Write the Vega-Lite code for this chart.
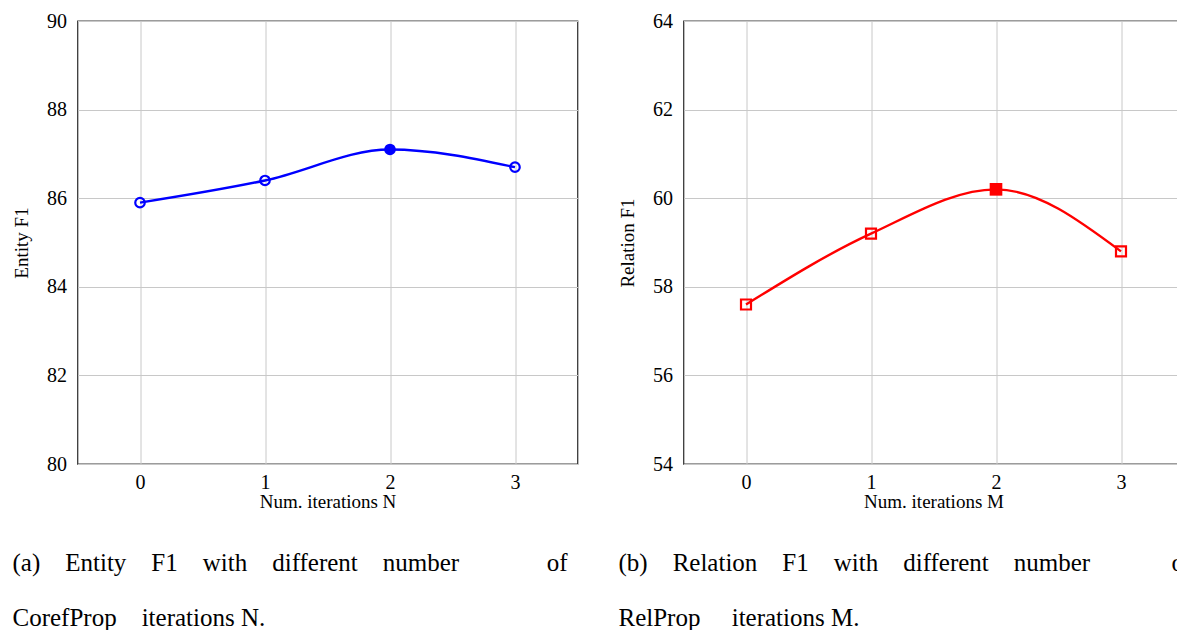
{
  "$schema": "https://vega.github.io/schema/vega-lite/v6.json",
  "padding": {"left": 11.5, "top": 10, "right": 0, "bottom": 0},
  "spacing": 106,
  "bounds": "flush",
  "background": "white",
  "config": {
    "font": "Liberation Serif",
    "view": {"stroke": "#3a3a3a", "strokeWidth": 1.3},
    "axis": {
      "domain": false,
      "ticks": false,
      "grid": true,
      "gridColor": "#c8c8c8",
      "gridWidth": 1,
      "labelFont": "Liberation Serif",
      "labelFontSize": 20,
      "labelColor": "#000",
      "titleFont": "Liberation Serif",
      "titleFontSize": 19,
      "titleFontWeight": "normal",
      "titleColor": "#000"
    },
    "axisX": {"labelPadding": 8, "titlePadding": 0},
    "axisY": {"labelPadding": 11, "titlePadding": 15},
    "title": {
      "font": "Liberation Serif",
      "fontSize": 25,
      "fontWeight": "normal",
      "color": "#000",
      "subtitleFont": "Liberation Serif",
      "subtitleFontSize": 25,
      "subtitleColor": "#000"
    }
  },
  "datasets": {
    "entity": [
      {"iter": 0, "f1": 85.9, "best": false},
      {"iter": 1, "f1": 86.4, "best": false},
      {"iter": 2, "f1": 87.1, "best": true},
      {"iter": 3, "f1": 86.7, "best": false}
    ],
    "relation": [
      {"iter": 0, "f1": 57.6, "best": false},
      {"iter": 1, "f1": 59.2, "best": false},
      {"iter": 2, "f1": 60.2, "best": true},
      {"iter": 3, "f1": 58.8, "best": false}
    ]
  },
  "hconcat": [
    {
      "width": 500,
      "height": 443,
      "data": {"name": "entity"},
      "title": {
        "text": "(a)\u00a0\u00a0\u00a0\u00a0Entity\u00a0\u00a0\u00a0\u00a0F1\u00a0\u00a0\u00a0\u00a0with\u00a0\u00a0\u00a0\u00a0different\u00a0\u00a0\u00a0\u00a0number\u00a0\u00a0\u00a0\u00a0\u00a0\u00a0\u00a0\u00a0\u00a0\u00a0\u00a0\u00a0\u00a0\u00a0of",
        "subtitle": "CorefProp\u00a0\u00a0\u00a0\u00a0iterations N.",
        "orient": "bottom",
        "anchor": "start",
        "frame": "bounds",
        "offset": 40,
        "subtitlePadding": 30
      },
      "encoding": {
        "x": {
          "field": "iter",
          "type": "quantitative",
          "scale": {"domain": [-0.5, 3.5], "nice": false, "zero": false},
          "axis": {"values": [0, 1, 2, 3], "title": "Num. iterations N", "format": "d", "labelFont": "Liberation Serif", "labelFontSize": 20}
        },
        "y": {
          "field": "f1",
          "type": "quantitative",
          "scale": {"domain": [80, 90], "nice": false, "zero": false},
          "axis": {"values": [80, 82, 84, 86, 88, 90], "title": "Entity F1", "labelFont": "Liberation Serif", "labelFontSize": 20}
        }
      },
      "layer": [
        {"mark": {"type": "line", "color": "#0000ff", "strokeWidth": 2.4, "interpolate": "monotone"}},
        {
          "transform": [{"filter": "!datum.best"}],
          "mark": {"type": "point", "shape": "circle", "filled": false, "color": "#0000ff", "strokeWidth": 2.2, "size": 90, "opacity": 1}
        },
        {
          "transform": [{"filter": "datum.best"}],
          "mark": {"type": "point", "shape": "circle", "filled": true, "color": "#0000ff", "size": 135, "opacity": 1}
        }
      ]
    },
    {
      "width": 500,
      "height": 443,
      "data": {"name": "relation"},
      "title": {
        "text": "(b)\u00a0\u00a0\u00a0\u00a0Relation\u00a0\u00a0\u00a0\u00a0F1\u00a0\u00a0\u00a0\u00a0with\u00a0\u00a0\u00a0\u00a0different\u00a0\u00a0\u00a0\u00a0number\u00a0\u00a0\u00a0\u00a0\u00a0\u00a0\u00a0\u00a0\u00a0\u00a0\u00a0\u00a0\u00a0of",
        "subtitle": "RelProp\u00a0\u00a0\u00a0\u00a0\u00a0iterations M.",
        "orient": "bottom",
        "anchor": "start",
        "frame": "bounds",
        "offset": 40,
        "subtitlePadding": 30
      },
      "encoding": {
        "x": {
          "field": "iter",
          "type": "quantitative",
          "scale": {"domain": [-0.5, 3.5], "nice": false, "zero": false},
          "axis": {"values": [0, 1, 2, 3], "title": "Num. iterations M", "format": "d", "labelFont": "Liberation Serif", "labelFontSize": 20}
        },
        "y": {
          "field": "f1",
          "type": "quantitative",
          "scale": {"domain": [54, 64], "nice": false, "zero": false},
          "axis": {"values": [54, 56, 58, 60, 62, 64], "title": "Relation F1", "labelFont": "Liberation Serif", "labelFontSize": 20}
        }
      },
      "layer": [
        {"mark": {"type": "line", "color": "#ff0000", "strokeWidth": 2.4, "interpolate": "monotone"}},
        {
          "transform": [{"filter": "!datum.best"}],
          "mark": {"type": "point", "shape": "square", "filled": false, "color": "#ff0000", "strokeWidth": 2.2, "size": 100, "opacity": 1}
        },
        {
          "transform": [{"filter": "datum.best"}],
          "mark": {"type": "point", "shape": "square", "filled": true, "color": "#ff0000", "size": 160, "opacity": 1}
        }
      ]
    }
  ]
}
